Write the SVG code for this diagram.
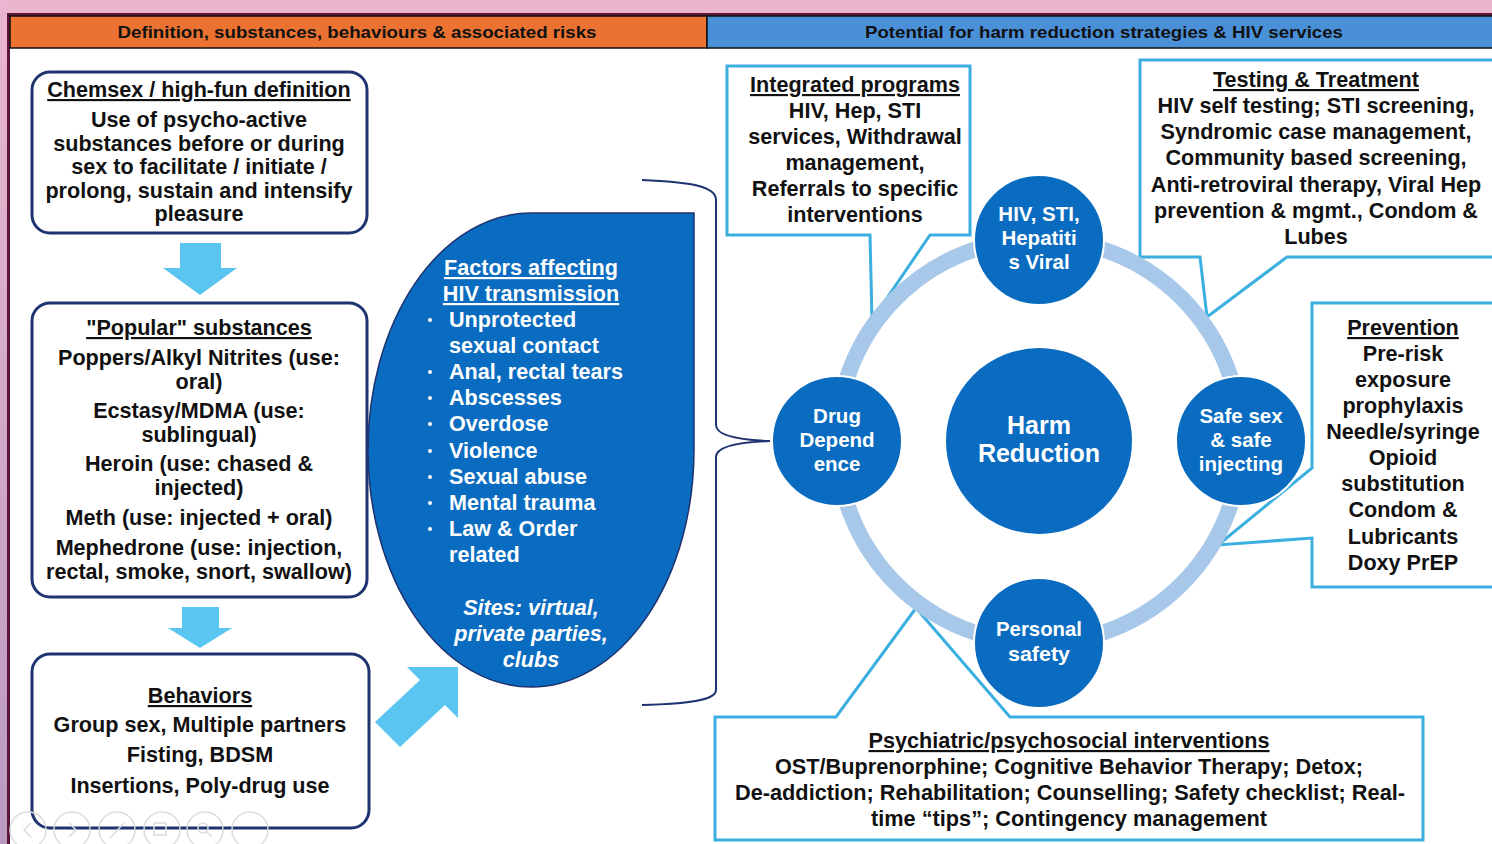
<svg xmlns="http://www.w3.org/2000/svg" width="1492" height="844" viewBox="0 0 1492 844">
<defs>
<linearGradient id="lg" x1="0" y1="0" x2="0" y2="1">
<stop offset="0" stop-color="#EBB6CF"/><stop offset="1" stop-color="#B99BC2"/>
</linearGradient>
<style>
text{font-family:"Liberation Sans",Arial,sans-serif;font-weight:bold;text-anchor:middle}
.hd{font-size:17px;fill:#111}
.bx{fill:#fff;stroke:#1F3370;stroke-width:3}
.t{font-size:21.6px;fill:#111}
.u{text-decoration:underline}
.w{fill:#fff;font-size:21.6px}
.wl{fill:#fff;font-size:21.6px;text-anchor:start}
.co{fill:#fff;stroke:#3BAFE0;stroke-width:3;stroke-linejoin:miter}
.arr{fill:#5BC5F2}
.c{fill:#0A6CC0;stroke:#fff;stroke-width:2}
.ct{fill:#fff;font-size:20.5px}
.hr{fill:#fff;font-size:25px}
.ic{fill:none;stroke:#dcdcdc;stroke-width:1.5}
</style>
</defs>
<rect x="0" y="0" width="1492" height="844" fill="#fff"/>
<rect x="0" y="0" width="1492" height="14" fill="#EBB5CE"/>
<rect x="0" y="0" width="8" height="844" fill="url(#lg)"/>
<rect x="8" y="13" width="1484" height="3" fill="#5A1538"/>
<rect x="7" y="13" width="3" height="831" fill="#5A1538"/>

<g id="header">
<rect x="10" y="16" width="697" height="32" fill="#EB7230" stroke="#111" stroke-width="1.5"/>
<rect x="707" y="16" width="790" height="32" fill="#4A90D9" stroke="#111" stroke-width="1.5"/>
<text class="hd" x="357" y="38" textLength="479" lengthAdjust="spacingAndGlyphs">Definition, substances, behaviours &amp; associated risks</text>
<text class="hd" x="1104" y="38" textLength="478" lengthAdjust="spacingAndGlyphs">Potential for harm reduction strategies &amp; HIV services</text>
</g>

<g id="connectors">
<polygon class="arr" points="180,243 221,243 221,268 237,268 200,295 163,268 180,268"/>
<polygon class="arr" points="182,607 219,607 219,628 232,628 200,648 168,628 182,628"/>
<polygon class="arr" points="458,667 458,718 445,705 400,747 375,722 420,680 407,667"/>
<path d="M642,180 C690,182 716,186 716,200 V425 C716,436 740,440 770,441 C740,442 716,446 716,457 V690 C716,700 690,704 642,705" fill="none" stroke="#1F3370" stroke-width="2"/>
</g>

<g id="definition">
<rect class="bx" x="32" y="72" width="335" height="161" rx="18"/>
<text class="t u" x="199" y="97">Chemsex / high-fun definition</text>
<text class="t" x="199" y="127">Use of psycho-active</text>
<text class="t" x="199" y="151">substances before or during</text>
<text class="t" x="199" y="174">sex to facilitate / initiate /</text>
<text class="t" x="199" y="198">prolong, sustain and intensify</text>
<text class="t" x="199" y="221">pleasure</text>
</g>

<g id="substances">
<rect class="bx" x="32" y="303" width="335" height="294" rx="18"/>
<text class="t u" x="199" y="335">"Popular" substances</text>
<text class="t" x="199" y="365">Poppers/Alkyl Nitrites (use:</text>
<text class="t" x="199" y="389">oral)</text>
<text class="t" x="199" y="418">Ecstasy/MDMA (use:</text>
<text class="t" x="199" y="442">sublingual)</text>
<text class="t" x="199" y="471">Heroin (use: chased &amp;</text>
<text class="t" x="199" y="495">injected)</text>
<text class="t" x="199" y="525">Meth (use: injected + oral)</text>
<text class="t" x="199" y="555">Mephedrone (use: injection,</text>
<text class="t" x="199" y="579">rectal, smoke, snort, swallow)</text>
</g>

<g id="behaviors">
<rect class="bx" x="32" y="654" width="337" height="174" rx="18"/>
<text class="t u" x="200" y="703">Behaviors</text>
<text class="t" x="200" y="732">Group sex, Multiple partners</text>
<text class="t" x="200" y="762">Fisting, BDSM</text>
<text class="t" x="200" y="793">Insertions, Poly-drug use</text>
</g>

<g id="factors">
<path d="M694,450 A163,237 0 0 1 531,687 A163,237 0 0 1 368,450 A163,237 0 0 1 531,213 L694,213 Z" fill="#0A6CC0" stroke="#1F3370" stroke-width="1.5"/>
<text class="w u" x="531" y="275">Factors affecting</text>
<text class="w u" x="531" y="301">HIV transmission</text>
<g fill="#fff">
<circle cx="430" cy="320" r="2"/><circle cx="430" cy="372" r="2"/><circle cx="430" cy="398" r="2"/><circle cx="430" cy="424" r="2"/><circle cx="430" cy="451" r="2"/><circle cx="430" cy="477" r="2"/><circle cx="430" cy="503" r="2"/><circle cx="430" cy="529" r="2"/>
</g>
<text class="wl" x="449" y="327">Unprotected</text>
<text class="wl" x="449" y="353">sexual contact</text>
<text class="wl" x="449" y="379">Anal, rectal tears</text>
<text class="wl" x="449" y="405">Abscesses</text>
<text class="wl" x="449" y="431">Overdose</text>
<text class="wl" x="449" y="458">Violence</text>
<text class="wl" x="449" y="484">Sexual abuse</text>
<text class="wl" x="449" y="510">Mental trauma</text>
<text class="wl" x="449" y="536">Law &amp; Order</text>
<text class="wl" x="449" y="562">related</text>
<text class="w" x="531" y="615" font-style="italic">Sites: virtual,</text>
<text class="w" x="531" y="641" font-style="italic">private parties,</text>
<text class="w" x="531" y="667" font-style="italic">clubs</text>
</g>

<g id="integrated">
<path class="co" d="M727,66 H970 V235 H930 L872,320 L870,235 H727 Z"/>
<text class="t u" x="855" y="92">Integrated programs</text>
<text class="t" x="855" y="118">HIV, Hep, STI</text>
<text class="t" x="855" y="144">services, Withdrawal</text>
<text class="t" x="855" y="170">management,</text>
<text class="t" x="855" y="196">Referrals to specific</text>
<text class="t" x="855" y="222">interventions</text>
</g>

<g id="testing">
<path class="co" d="M1140,60 H1497 V257 H1287 L1207,317 L1200,257 H1140 Z"/>
<text class="t u" x="1316" y="87">Testing &amp; Treatment</text>
<text class="t" x="1316" y="113">HIV self testing; STI screening,</text>
<text class="t" x="1316" y="139">Syndromic case management,</text>
<text class="t" x="1316" y="165">Community based screening,</text>
<text class="t" x="1316" y="192">Anti-retroviral therapy, Viral Hep</text>
<text class="t" x="1316" y="218">prevention &amp; mgmt., Condom &amp;</text>
<text class="t" x="1316" y="244">Lubes</text>
</g>

<g id="prevention">
<path class="co" d="M1497,303 H1312 V468 L1218,545 L1312,538 V587 H1497"/>
<text class="t u" x="1403" y="335">Prevention</text>
<text class="t" x="1403" y="361">Pre-risk</text>
<text class="t" x="1403" y="387">exposure</text>
<text class="t" x="1403" y="413">prophylaxis</text>
<text class="t" x="1403" y="439">Needle/syringe</text>
<text class="t" x="1403" y="465">Opioid</text>
<text class="t" x="1403" y="491">substitution</text>
<text class="t" x="1403" y="517">Condom &amp;</text>
<text class="t" x="1403" y="544">Lubricants</text>
<text class="t" x="1403" y="570">Doxy PrEP</text>
</g>

<g id="psychiatric">
<path class="co" d="M715,717 H836 L916,608 L1010,717 H1423 V840 H715 Z"/>
<text class="t u" x="1069" y="748" textLength="401" lengthAdjust="spacingAndGlyphs">Psychiatric/psychosocial interventions</text>
<text class="t" x="1069" y="774" textLength="588" lengthAdjust="spacingAndGlyphs">OST/Buprenorphine; Cognitive Behavior Therapy; Detox;</text>
<text class="t" x="1070" y="800" textLength="670" lengthAdjust="spacingAndGlyphs">De-addiction; Rehabilitation; Counselling; Safety checklist; Real-</text>
<text class="t" x="1069" y="826" textLength="396" lengthAdjust="spacingAndGlyphs">time “tips”; Contingency management</text>
</g>

<g id="ring">
<circle cx="1039" cy="441" r="202" fill="none" stroke="#A8C8EA" stroke-width="16"/>
</g>

<g id="harm-reduction">
<circle class="c" cx="1039" cy="441" r="94"/>
<text class="hr" x="1039" y="434">Harm</text>
<text class="hr" x="1039" y="462">Reduction</text>
</g>

<g id="hiv-sti">
<circle class="c" cx="1039" cy="240" r="65"/>
<text class="ct" x="1039" y="221">HIV, STI,</text>
<text class="ct" x="1039" y="245">Hepatiti</text>
<text class="ct" x="1039" y="269">s Viral</text>
</g>

<g id="drug-dependence">
<circle class="c" cx="837" cy="441" r="65"/>
<text class="ct" x="837" y="423">Drug</text>
<text class="ct" x="837" y="447">Depend</text>
<text class="ct" x="837" y="471">ence</text>
</g>

<g id="safe-sex">
<circle class="c" cx="1241" cy="441" r="65"/>
<text class="ct" x="1241" y="423">Safe sex</text>
<text class="ct" x="1241" y="447">&amp; safe</text>
<text class="ct" x="1241" y="471">injecting</text>
</g>

<g id="personal-safety">
<circle class="c" cx="1039" cy="643" r="65"/>
<text class="ct" x="1039" y="636" textLength="86" lengthAdjust="spacingAndGlyphs">Personal</text>
<text class="ct" x="1039" y="661" textLength="62" lengthAdjust="spacingAndGlyphs">safety</text>
</g>

<g id="slide-controls">
<circle class="ic" cx="28" cy="830" r="18"/><path class="ic" d="M31,823 L24,830 L31,837"/>
<circle class="ic" cx="72" cy="830" r="18"/><path class="ic" d="M69,823 L76,830 L69,837"/>
<circle class="ic" cx="117" cy="830" r="18"/><path class="ic" d="M110,838 L124,823"/>
<circle class="ic" cx="162" cy="830" r="18"/><rect class="ic" x="154" y="823" width="12" height="12"/>
<circle class="ic" cx="205" cy="830" r="18"/><circle class="ic" cx="203" cy="828" r="5"/><path class="ic" d="M207,832 L212,837"/>
<circle class="ic" cx="250" cy="830" r="18"/><path class="ic" d="M243,830 h1 M250,830 h1 M257,830 h1"/>
</g>
</svg>
